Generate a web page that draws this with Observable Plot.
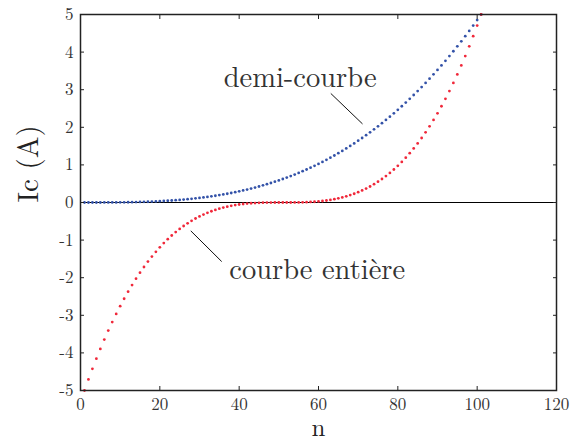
<!DOCTYPE html>
<html><head><meta charset="utf-8">
<script src="https://cdn.jsdelivr.net/npm/d3@7"></script>
<script src="https://cdn.jsdelivr.net/npm/@observablehq/plot@0.6"></script>
<style>body{margin:0;background:#fff}#chart svg{display:block}</style>
</head><body><div id="chart"></div>
<script>
// x values (n) for each dot
const nValues = [1,2,3,4,5,6,7,8,9,10,11,12,13,14,15,16,17,18,19,20,21,22,23,24,25,26,27,28,29,30,
31,32,33,34,35,36,37,38,39,40,41,42,43,44,45,46,47,48,49,50,51,52,53,54,55,56,57,58,59,60,
61,62,63,64,65,66,67,68,69,70,71,72,73,74,75,76,77,78,79,80,81,82,83,84,85,86,87,88,89,90,
91,92,93,94,95,96,97,98,99,100,101];
// "demi-courbe" (blue)
const demiCourbe = [0,0,0,0,0,0.001,0.001,0.002,0.003,0.004,
0.005,0.007,0.009,0.011,0.014,0.017,0.02,0.025,0.029,0.034,
0.04,0.046,0.053,0.061,0.069,0.078,0.088,0.098,0.11,0.122,
0.135,0.149,0.164,0.18,0.197,0.214,0.233,0.253,0.274,0.297,
0.32,0.345,0.37,0.398,0.426,0.456,0.487,0.519,0.553,0.588,
0.625,0.663,0.703,0.744,0.787,0.832,0.878,0.926,0.976,1.027,
1.08,1.135,1.192,1.25,1.311,1.373,1.438,1.504,1.572,1.643,
1.715,1.79,1.866,1.945,2.026,2.109,2.195,2.283,2.373,2.465,
2.56,2.657,2.757,2.859,2.964,3.071,3.18,3.293,3.408,3.525,
3.646,3.769,3.894,4.023,4.154,4.287,4.424,4.564,4.706,4.852,5];
// "courbe entière" (red)
const courbeEntiere = [-5,-4.706,-4.424,-4.153,-3.893,-3.645,-3.407,-3.18,-2.964,-2.757,
-2.56,-2.373,-2.195,-2.026,-1.866,-1.715,-1.572,-1.437,-1.311,-1.192,
-1.08,-0.976,-0.878,-0.787,-0.703,-0.625,-0.553,-0.487,-0.426,-0.37,
-0.32,-0.274,-0.233,-0.197,-0.164,-0.135,-0.11,-0.088,-0.069,-0.053,
-0.04,-0.029,-0.02,-0.014,-0.009,-0.005,-0.003,-0.001,0,0,
0,
0,0,0.001,0.003,0.005,0.009,0.014,0.02,0.029,0.04,
0.053,0.069,0.088,0.11,0.135,0.164,0.197,0.233,0.274,0.32,
0.37,0.426,0.487,0.553,0.625,0.703,0.787,0.878,0.976,1.08,
1.192,1.311,1.437,1.572,1.715,1.866,2.026,2.195,2.373,2.56,
2.757,2.964,3.18,3.407,3.645,3.893,4.153,4.424,4.706,5];

const xTicks = [0,20,40,60,80,100,120];
const yTicks = [-5,-4,-3,-2,-1,0,1,2,3,4,5];
const xInnerTicks = [20,40,60,80,100];
const yInnerTicks = [-4,-3,-2,-1,0,1,2,3,4];

const labelTexts = ["demi-courbe", "courbe entière"];
const labelN = [36.1, 37.5];
const labelI = [3.31, -1.80];
const leaderN1 = [63.1, 27.8], leaderN2 = [71.1, 35.6];
const leaderI1 = [2.90, -0.754], leaderI2 = [2.09, -1.571];

const xLabel = "n";
const yLabel = "Ic (A)";

const blue = nValues.map((n, i) => ({n, v: demiCourbe[i]}));
const red = nValues.map((n, i) => ({n, v: courbeEntiere[i]}));
const labels = labelTexts.map((t, i) => ({t, n: labelN[i], v: labelI[i]}));
const leaders = leaderN1.map((d, i) => ({x1: d, x2: leaderN2[i], y1: leaderI1[i], y2: leaderI2[i]}));

const serif = "'Latin Modern Roman','CMU Serif','Liberation Serif','Times New Roman',serif";
const fmt = d => String(d);

const chart = Plot.plot({
  width: 571, height: 443,
  marginLeft: 80, marginRight: 15, marginTop: 14, marginBottom: 53,
  style: {fontFamily: serif, fontSize: "17px", color: "#222", background: "#fff"},
  x: {domain: [0, 120]},
  y: {domain: [-5, 5]},
  marks: [
    Plot.ruleY([0], {stroke: "#000", strokeWidth: 1.2}),
    Plot.dot(blue, {x: "n", y: "v", r: 1.4, fill: "#3352a8", stroke: null}),
    Plot.dot(red, {x: "n", y: "v", r: 1.4, fill: "#f0283a", stroke: null}),
    Plot.link(leaders, {x1: "x1", y1: "y1", x2: "x2", y2: "y2", stroke: "#111", strokeWidth: 1}),
    Plot.text(labels, {x: "n", y: "v", text: "t", textAnchor: "start", lineAnchor: "middle", fontSize: 28.5, fill: "#333"}),
    Plot.frame({stroke: "#222", strokeWidth: 1.5}),
    Plot.axisX(xTicks, {anchor: "bottom", tickSize: -4, tickPadding: 11, tickFormat: fmt, label: null, fill: "#333"}),
    Plot.axisX(xInnerTicks, {anchor: "top", tickSize: -4, tickFormat: () => "", label: null}),
    Plot.axisY(yTicks, {anchor: "left", tickSize: -4, tickPadding: 11, tickFormat: fmt, label: null, fill: "#333"}),
    Plot.axisY(yInnerTicks, {anchor: "right", tickSize: -4, tickFormat: () => "", label: null}),
    Plot.text([xLabel], {frameAnchor: "bottom", text: d => d, dy: 37.5, lineAnchor: "middle", fontSize: 25, fill: "#222"}),
    Plot.text([yLabel], {frameAnchor: "left", text: d => d, dx: -52, rotate: -90, lineAnchor: "middle", fontSize: 29, fill: "#222"})
  ]
});
document.getElementById("chart").appendChild(chart);
</script>
</body></html>
